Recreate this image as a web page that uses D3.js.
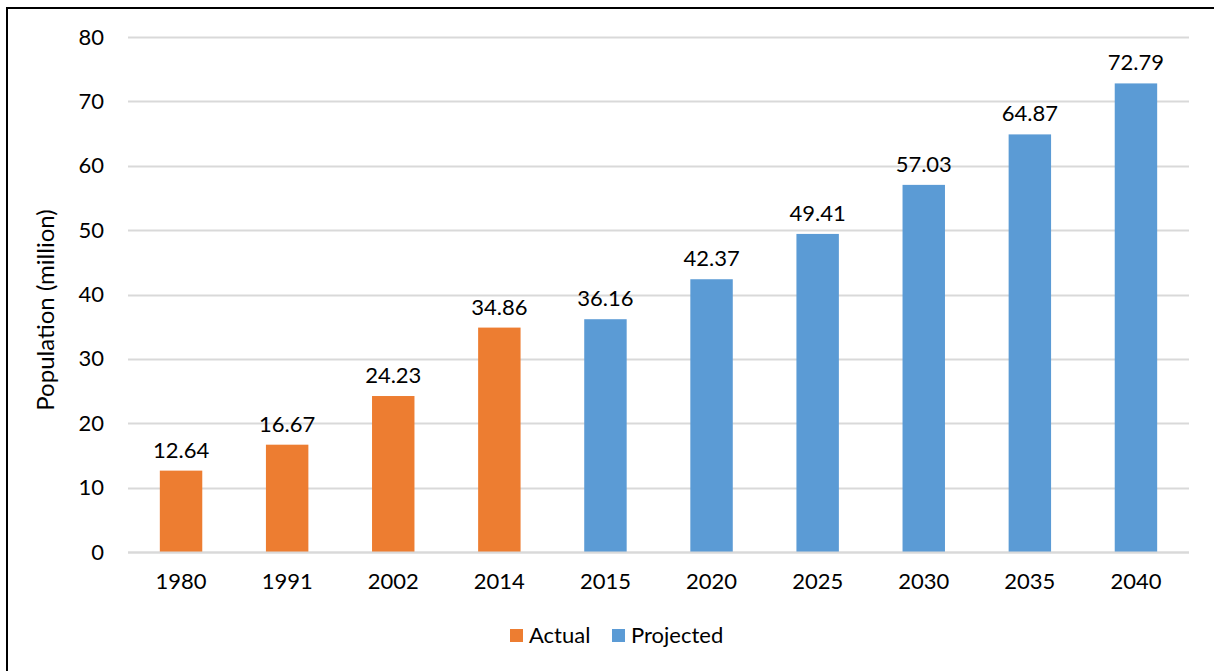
<!DOCTYPE html>
<html>
<head>
<meta charset="utf-8">
<script src="https://cdn.jsdelivr.net/npm/d3@7"></script>
<style>
	body { margin: 0; background: #fff; }
	text { font-family: Lato, "Open Sans", sans-serif; fill: #000; }
</style>
</head>
<body>
<div id="chart"></div>
<script>
	var years = ["1980", "1991", "2002", "2014", "2015", "2020", "2025", "2030", "2035", "2040"];
	var population = [12.64, 16.67, 24.23, 34.86, 36.16, 42.37, 49.41, 57.03, 64.87, 72.79];
	var kinds = ["Actual", "Actual", "Actual", "Actual", "Projected", "Projected", "Projected", "Projected", "Projected", "Projected"];
	var yTicks = [0, 10, 20, 30, 40, 50, 60, 70, 80];
	var seriesNames = ["Actual", "Projected"];

	var width = 1214, height = 671;
	var margin = {top: 37, left: 128, right: 25, bottom: 119};

	var color = d3.scaleOrdinal().domain(seriesNames).range(["#ED7D31", "#5B9BD5"]);

	var svg = d3.select("#chart")
				.append("svg")
				.attr("width", width)
				.attr("height", height);

	// outer frame (only top and left edges show in the picture)
	svg.append("path")
	   .attr("d", "M7," + height + "V8H" + width)
	   .attr("fill", "none")
	   .attr("stroke", "#000")
	   .attr("stroke-width", 2);

	var x = d3.scaleBand()
			  .domain(years)
			  .range([margin.left, width - margin.right])
			  .paddingInner(0.6)
			  .paddingOuter(0.3);

	var y = d3.scaleLinear()
			  .domain([0, 80])
			  .range([height - margin.bottom, margin.top]);

	// gridlines
	svg.append("g")
	   .selectAll("line")
	   .data(yTicks)
	   .enter().append("line")
	   .attr("x1", margin.left)
	   .attr("x2", width - margin.right)
	   .attr("y1", function(d){ return Math.round(y(d)) + 0.5; })
	   .attr("y2", function(d){ return Math.round(y(d)) + 0.5; })
	   .attr("stroke", "#D9D9D9")
	   .attr("stroke-width", 2);

	// y axis labels
	var yAxis = d3.axisLeft(y).tickValues(yTicks).tickSize(0).tickPadding(24);
	var gy = svg.append("g")
				.attr("transform", "translate(" + margin.left + ",0)")
				.call(yAxis);
	gy.select(".domain").remove();
	gy.selectAll("text").attr("font-size", 22).attr("font-family", "Lato, sans-serif");

	// bars
	svg.append("g")
	   .selectAll("rect")
	   .data(population)
	   .enter().append("rect")
	   .attr("x", function(d, i){ return x(years[i]); })
	   .attr("width", x.bandwidth())
	   .attr("y", function(d){ return y(d); })
	   .attr("height", function(d){ return y(0) - y(d); })
	   .attr("fill", function(d, i){ return color(kinds[i]); });

	// baseline over bars
	svg.append("line")
	   .attr("x1", margin.left)
	   .attr("x2", width - margin.right)
	   .attr("y1", Math.round(y(0)) + 0.5)
	   .attr("y2", Math.round(y(0)) + 0.5)
	   .attr("stroke", "#D9D9D9")
	   .attr("stroke-width", 2);

	// value labels
	svg.append("g")
	   .selectAll("text")
	   .data(population)
	   .enter().append("text")
	   .attr("x", function(d, i){ return x(years[i]) + x.bandwidth() / 2; })
	   .attr("y", function(d){ return y(d) - 13; })
	   .attr("text-anchor", "middle")
	   .attr("font-size", 22)
	   .text(function(d){ return d.toFixed(2); });

	// x axis labels
	var xAxis = d3.axisBottom(x).tickSize(0).tickPadding(21);
	var gx = svg.append("g")
				.attr("transform", "translate(0," + y(0) + ")")
				.call(xAxis);
	gx.select(".domain").remove();
	gx.selectAll("text").attr("font-size", 22).attr("font-family", "Lato, sans-serif");

	// y axis title
	svg.append("text")
	   .attr("transform", "translate(54,310) rotate(-90)")
	   .attr("text-anchor", "middle")
	   .attr("font-size", 24)
	   .text("Population (million)");

	// legend
	var legendX = [510, 612];
	var legend = svg.append("g")
					.selectAll("g")
					.data(seriesNames)
					.enter().append("g")
					.attr("transform", function(d, i){ return "translate(" + legendX[i] + ",629)"; });
	legend.append("rect")
		  .attr("width", 13)
		  .attr("height", 13)
		  .attr("fill", function(d){ return color(d); });
	legend.append("text")
		  .attr("x", 19)
		  .attr("y", 14)
		  .attr("font-size", 22)
		  .text(function(d){ return d; });
</script>
</body>
</html>
